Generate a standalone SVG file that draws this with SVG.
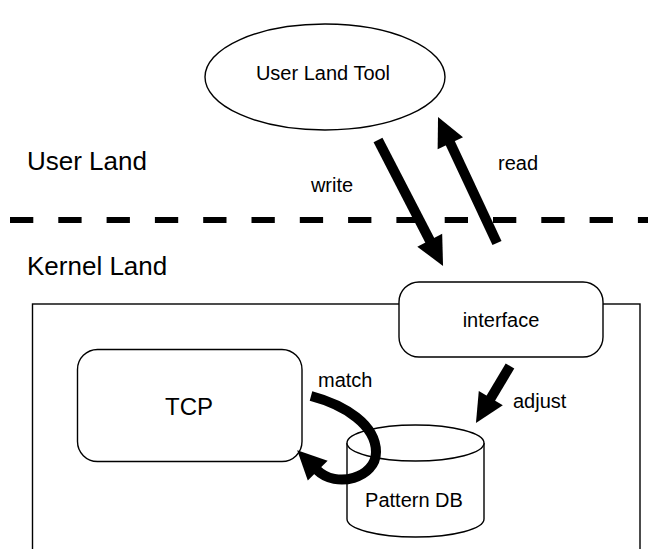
<svg xmlns="http://www.w3.org/2000/svg" width="648" height="549" viewBox="0 0 648 549">
<style>
text{font-family:"Liberation Sans",Arial,sans-serif;fill:#000}
.shape{fill:#fff;stroke:#000;stroke-width:1.4}
.lbl{font-size:20px}
.big{font-size:26px}
.arrow{fill:none;stroke:#000;stroke-width:10}
</style>
<defs>
<marker id="head" markerUnits="userSpaceOnUse" markerWidth="32" markerHeight="32" refX="1" refY="0" orient="auto" overflow="visible">
<path d="M0,-14 L29,0 L0,14 Z" fill="#000"/>
</marker>
</defs>
<rect width="648" height="549" fill="#fff"/>
<text class="big" x="27" y="170">User Land</text>
<text class="big" x="27" y="275">Kernel Land</text>
<line x1="10" y1="220" x2="648" y2="220" stroke="#000" stroke-width="6" stroke-dasharray="23.3 25"/>
<g id="kernel">
<rect class="shape" x="32.5" y="304" width="607.5" height="260"/>
</g>
<g id="tool">
<ellipse class="shape" cx="325" cy="77" rx="120" ry="53"/>
<text class="lbl" x="323" y="80" text-anchor="middle">User Land Tool</text>
</g>
<g id="interface">
<rect class="shape" x="399" y="282" width="204" height="75" rx="20"/>
<text class="lbl" x="501" y="327" text-anchor="middle">interface</text>
</g>
<g id="tcp">
<rect class="shape" x="77.5" y="349.5" width="224.5" height="112" rx="20"/>
<text x="189" y="415" text-anchor="middle" font-size="24">TCP</text>
</g>
<g id="patterndb">
<path class="shape" d="M347,443 L347,519 A68.5,18 0 0 0 484,519 L484,443"/>
<ellipse class="shape" cx="415.5" cy="443" rx="68.5" ry="18"/>
<text class="lbl" x="414" y="507" text-anchor="middle">Pattern DB</text>
</g>
<g id="connectors">
<line class="arrow" x1="378" y1="140" x2="430.2" y2="241.1" marker-end="url(#head)"/>
<line class="arrow" x1="497" y1="243" x2="449.9" y2="142.4" marker-end="url(#head)"/>
<line class="arrow" x1="510" y1="366" x2="490.3" y2="399" marker-end="url(#head)"/>
<path class="arrow" d="M311,396 C345,405 376,425 376,452 C376,478 336,489 317,470" marker-end="url(#head)"/>
<text class="lbl" x="332" y="192" text-anchor="middle">write</text>
<text class="lbl" x="498" y="170">read</text>
<text class="lbl" x="318" y="387">match</text>
<text class="lbl" x="513" y="408">adjust</text>
</g>
</svg>
